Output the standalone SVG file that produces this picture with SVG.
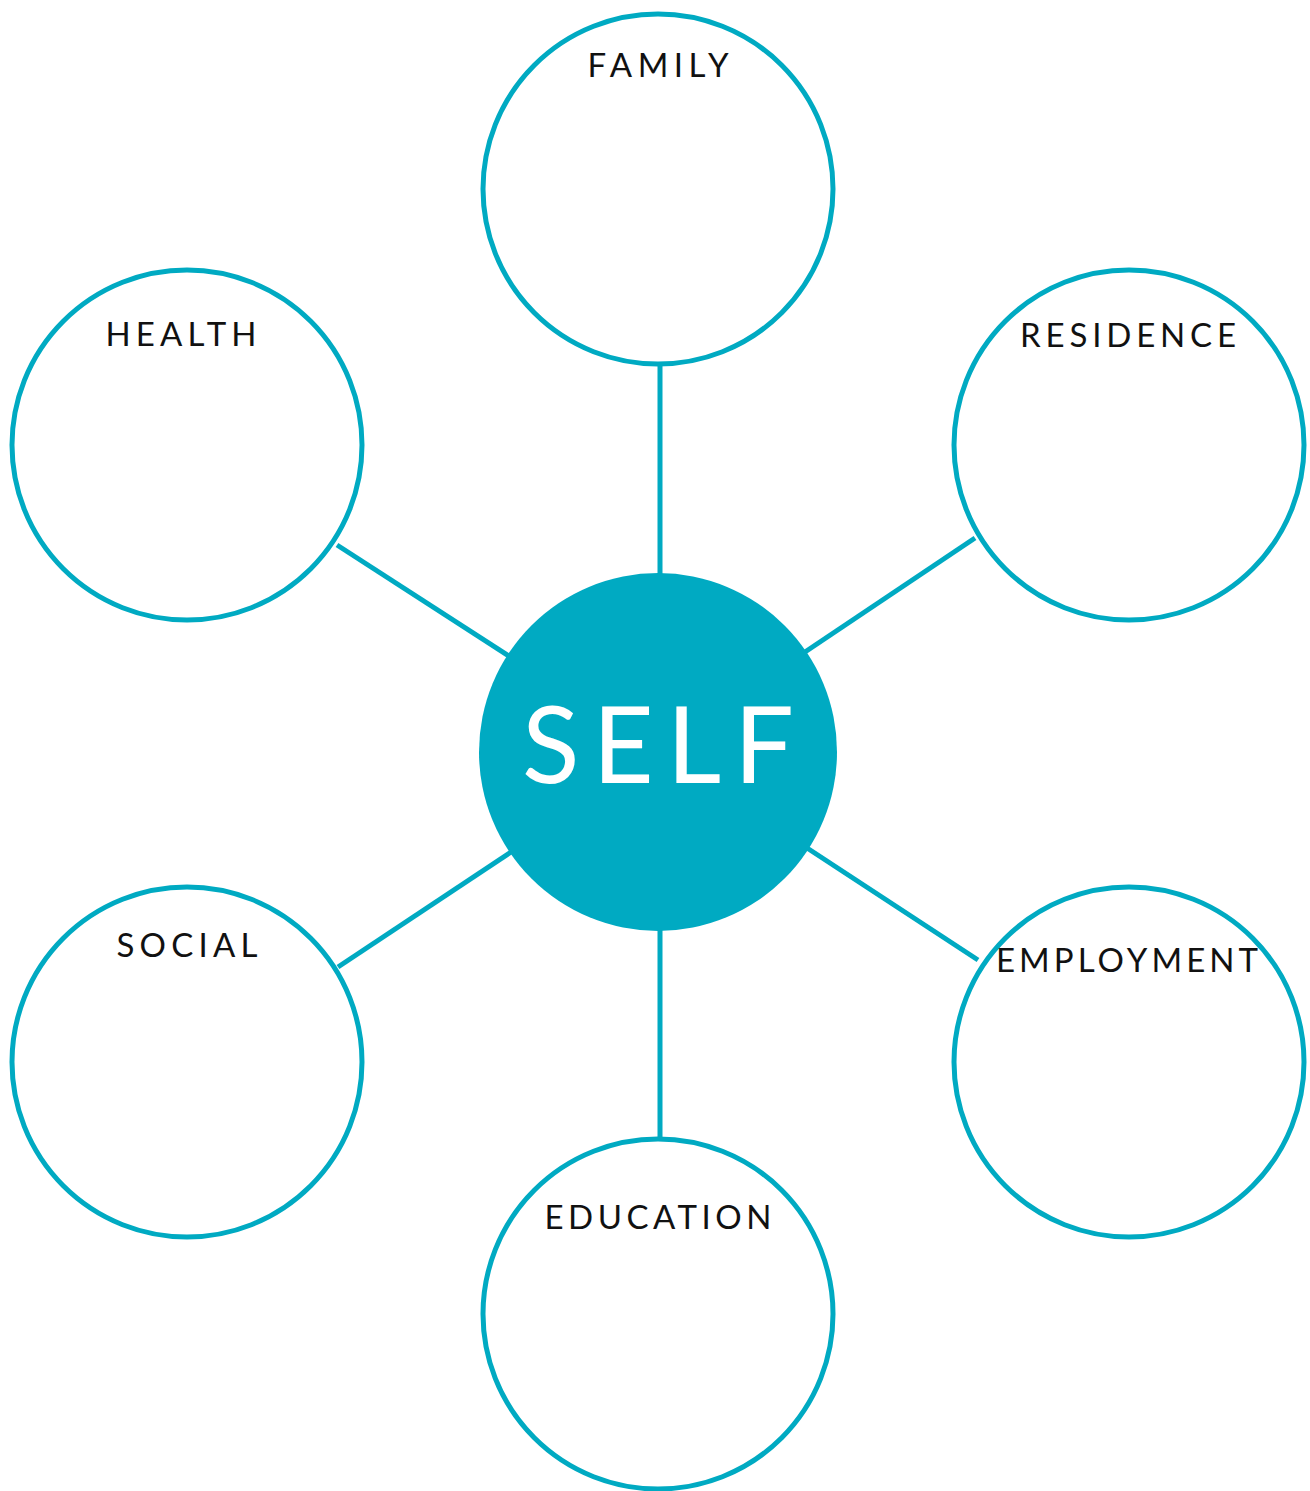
<svg xmlns="http://www.w3.org/2000/svg" width="1310" height="1491" viewBox="0 0 1310 1491">
<style>
.ring{fill:#fff;stroke:#00aac2;stroke-width:5}
.con{stroke:#00aac2;stroke-width:5;fill:none}
.lbl{font-family:Lato,"Liberation Sans",sans-serif;font-size:33px;fill:#111;text-anchor:middle}
.self{font-family:Lato,"Liberation Sans",sans-serif;font-size:106px;fill:#fff;text-anchor:middle}
</style>
<rect width="1310" height="1491" fill="#fff"/>
<g id="connectors">
<line class="con" x1="660" y1="366" x2="660" y2="580"/>
<line class="con" x1="660" y1="925" x2="660" y2="1138"/>
<line class="con" x1="337" y1="545" x2="512" y2="658"/>
<line class="con" x1="975" y1="538" x2="802" y2="654"/>
<line class="con" x1="338" y1="967" x2="514" y2="850"/>
<line class="con" x1="804" y1="846" x2="978" y2="960"/>
</g>
<g id="family"><circle class="ring" cx="658" cy="189" r="175"/><text class="lbl" x="658" y="77" textLength="141" lengthAdjust="spacing">FAMILY</text></g>
<g id="health"><circle class="ring" cx="187" cy="445" r="175"/><text class="lbl" x="181" y="346" textLength="151" lengthAdjust="spacing">HEALTH</text></g>
<g id="residence"><circle class="ring" cx="1129" cy="445" r="175"/><text class="lbl" x="1128" y="347" textLength="216" lengthAdjust="spacing">RESIDENCE</text></g>
<g id="social"><circle class="ring" cx="187" cy="1062" r="175"/><text class="lbl" x="187" y="957" textLength="141" lengthAdjust="spacing">SOCIAL</text></g>
<g id="employment"><circle class="ring" cx="1129" cy="1062" r="175"/><text class="lbl" x="1127" y="972" textLength="262" lengthAdjust="spacing">EMPLOYMENT</text></g>
<g id="education"><circle class="ring" cx="658" cy="1314" r="175"/><text class="lbl" x="658" y="1229" textLength="227" lengthAdjust="spacing">EDUCATION</text></g>
<g id="self"><circle cx="658" cy="752" r="179" fill="#00aac2"/><text class="self" x="658" y="783" textLength="272" lengthAdjust="spacing">SELF</text></g>
</svg>
